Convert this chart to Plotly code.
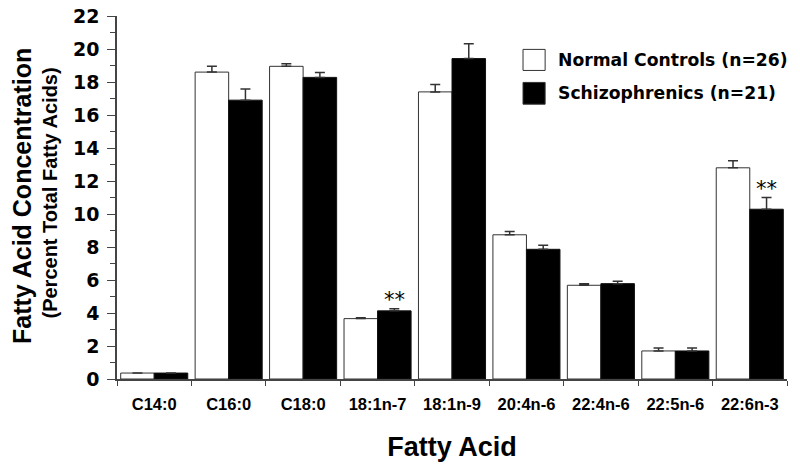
import plotly.graph_objects as go

categories = ["C14:0", "C16:0", "C18:0", "18:1n-7", "18:1n-9", "20:4n-6", "22:4n-6", "22:5n-6", "22:6n-3"]
controls = [0.36, 18.6, 18.95, 3.66, 17.4, 8.74, 5.68, 1.70, 12.8]
controls_err = [0.0, 0.35, 0.16, 0.05, 0.45, 0.20, 0.10, 0.18, 0.43]
schizo = [0.36, 16.9, 18.28, 4.13, 19.42, 7.86, 5.78, 1.70, 10.29]
schizo_err = [0.0, 0.67, 0.29, 0.13, 0.90, 0.25, 0.14, 0.18, 0.71]
significance = ["", "", "", "**", "", "", "", "", "**"]
series_names = ["Normal Controls (n=26)", "Schizophrenics (n=21)"]
y_ticks = list(range(0, 23, 2))

AR = "Liberation Sans, Arial, sans-serif"
DJ = "DejaVu Sans, sans-serif"

fig = go.Figure()
fig.add_trace(go.Bar(
    x=categories, y=controls, name=series_names[0],
    marker=dict(color="white", line=dict(color="#333", width=1)),
    error_y=dict(type="data", symmetric=False, array=controls_err,
                 arrayminus=[0] * len(controls), thickness=1.5, width=5, color="#333"),
    showlegend=False,
))
fig.add_trace(go.Bar(
    x=categories, y=schizo, name=series_names[1],
    marker=dict(color="black", line=dict(color="#111", width=1)),
    error_y=dict(type="data", symmetric=False, array=schizo_err,
                 arrayminus=[0] * len(schizo), thickness=1.5, width=5, color="#333"),
    showlegend=False,
))

annotations = []
for c, v, e, s in zip(categories, schizo, schizo_err, significance):
    if s:
        annotations.append(dict(x=c, y=v + e, xref="x", yref="y", text=s, showarrow=False,
                                xshift=17, yshift=-5, yanchor="bottom", xanchor="center",
                                font=dict(family=DJ, size=21, color="black")))

# y-axis title lines
annotations.append(dict(xref="paper", yref="paper", x=0, y=0.504, xshift=-95, xanchor="center",
                        yanchor="middle", text="Fatty Acid Concentration", textangle=-90,
                        showarrow=False,
                        font=dict(family=AR, size=25, color="black", weight="bold")))
annotations.append(dict(xref="paper", yref="paper", x=0, y=0.511, xshift=-67, xanchor="center",
                        yanchor="middle", text="(Percent Total Fatty Acids)", textangle=-90,
                        showarrow=False,
                        font=dict(family=AR, size=20, color="black", weight="bold")))

# manual legend
shapes = []
legend_fill = ["white", "black"]
legend_y = [(0.850, 0.908), (0.757, 0.817)]
for name, fill, (y0, y1) in zip(series_names, legend_fill, legend_y):
    shapes.append(dict(type="rect", xref="paper", yref="paper", x0=0.606, x1=0.639,
                       y0=y0, y1=y1, fillcolor=fill, line=dict(color="#333", width=1)))
    annotations.append(dict(xref="paper", yref="paper", x=0.655, y=(y0 + y1) / 2,
                            xanchor="left", yanchor="middle", showarrow=False,
                            text=name,
                            font=dict(family=DJ, size=17.2, color="black", weight="bold")))

fig.update_layout(
    width=800, height=471,
    margin=dict(l=117, r=13, t=16, b=92, autoexpand=False),
    paper_bgcolor="white", plot_bgcolor="white",
    barmode="group", bargap=0.099, bargroupgap=0,
    annotations=annotations, shapes=shapes,
    xaxis=dict(
        type="category", showline=True, linecolor="#444", linewidth=1.5,
        ticks="outside", tickson="boundaries", ticklen=5, tickcolor="#444",
        tickfont=dict(family=AR, size=16.5, color="black", weight="bold"),
        ticklabelstandoff=9,
        showgrid=False, zeroline=False, automargin=False,
        title=dict(text="Fatty Acid", font=dict(family=AR, size=27, color="black", weight="bold"),
                   standoff=26),
    ),
    yaxis=dict(
        range=[0, 22], tickvals=y_ticks, showline=True, linecolor="#444", linewidth=1.5,
        ticks="outside", ticklen=8, tickcolor="#444",
        minor=dict(dtick=1, ticks="outside", ticklen=5, tickcolor="#444"),
        tickfont=dict(family=DJ, size=19, color="black", weight="bold"),
        ticklabelstandoff=4, automargin=False, ticklabeloverflow="allow",
        showgrid=False, zeroline=False,
    ),
)

fig.write_html(
    "out.html",
    config={"displayModeBar": False},
    post_script="document.body.style.margin='0';document.body.style.overflow='hidden';",
)
